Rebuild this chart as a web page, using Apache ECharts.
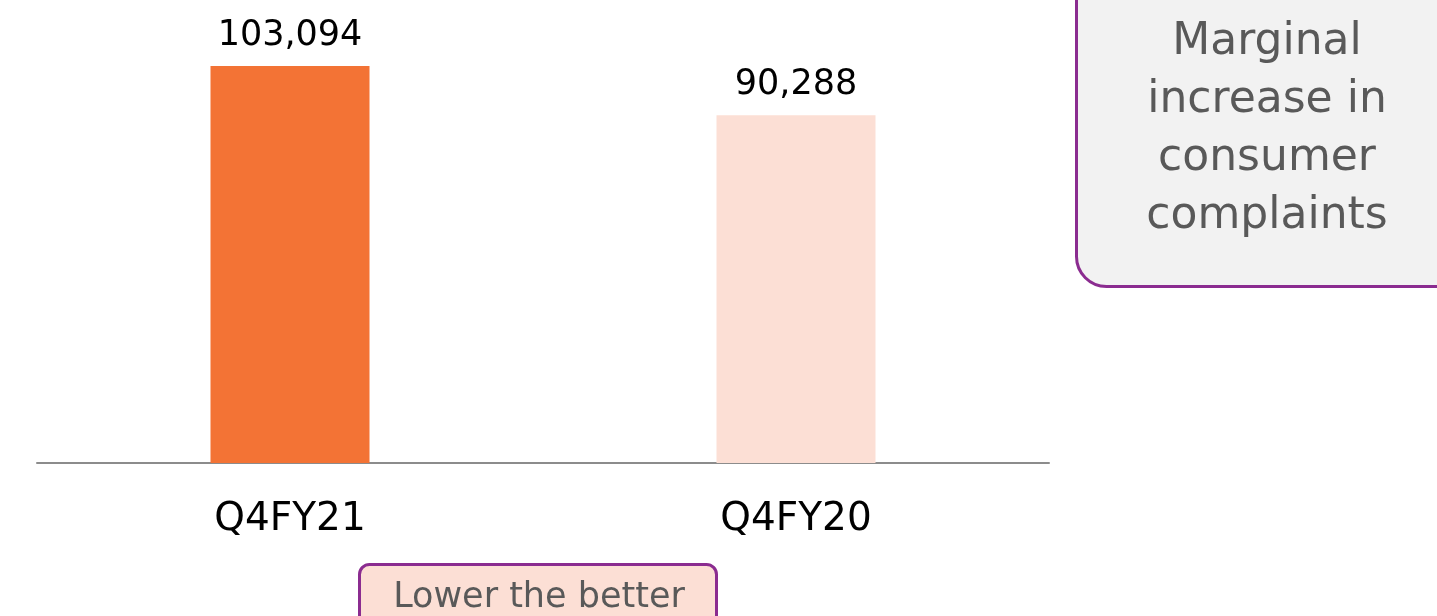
<!DOCTYPE html>
<html>
<head>
<meta charset="utf-8">
<script src="https://cdn.jsdelivr.net/npm/echarts@6/dist/echarts.min.js"></script>
<style>
html,body{margin:0;padding:0;background:#fff;}
#chart{width:1437px;height:616px;}
</style>
</head>
<body>
<div id="chart"></div>
<script>
var categories = ['Q4FY21', 'Q4FY20'];
var values = [103094, 90288];
var barColors = ['#F37335', '#FCDFD5'];
var noteText = 'Marginal\nincrease in\nconsumer\ncomplaints';
var footText = 'Lower the better';

var FONT = '"DejaVu Sans", sans-serif';
var chart = echarts.init(document.getElementById('chart'));
chart.setOption({
  animation: false,
  grid: {left: 37, right: 388, top: 66, bottom: 153},
  xAxis: {
    type: 'category',
    data: categories,
    axisLine: {show: true, lineStyle: {color: '#8C8C8C', width: 2}},
    axisTick: {show: false},
    axisLabel: {color: '#000', fontSize: 39, fontFamily: FONT, margin: 37}
  },
  yAxis: {
    type: 'value', min: 0, max: 'dataMax',
    show: false, splitLine: {show: false}
  },
  series: [{
    type: 'bar',
    barWidth: 159,
    data: values.map(function (v, i) { return {value: v, itemStyle: {color: barColors[i]}}; }),
    label: {
      show: true, position: 'top', distance: 13,
      color: '#000', fontSize: 35, fontFamily: FONT,
      formatter: function (p) { return p.value.toLocaleString('en-US'); }
    }
  }],
  graphic: [
    {
      type: 'rect',
      shape: {x: 1076.5, y: -40, width: 400, height: 326.5, r: 30},
      style: {fill: '#F2F2F2', stroke: '#8B2C90', lineWidth: 3}
    },
    {
      type: 'text',
      x: 1267, y: 130,
      style: {
        text: noteText, fill: '#595959', font: '44px ' + FONT,
        align: 'center', verticalAlign: 'middle', lineHeight: 58
      }
    },
    {
      type: 'rect',
      shape: {x: 359.5, y: 564.5, width: 357, height: 80, r: 10},
      style: {fill: '#FCDFD5', stroke: '#8B2C90', lineWidth: 3}
    },
    {
      type: 'text',
      x: 539, y: 598,
      style: {
        text: footText, fill: '#595959', font: '35px ' + FONT,
        align: 'center', verticalAlign: 'middle'
      }
    }
  ]
});
</script>
</body>
</html>
